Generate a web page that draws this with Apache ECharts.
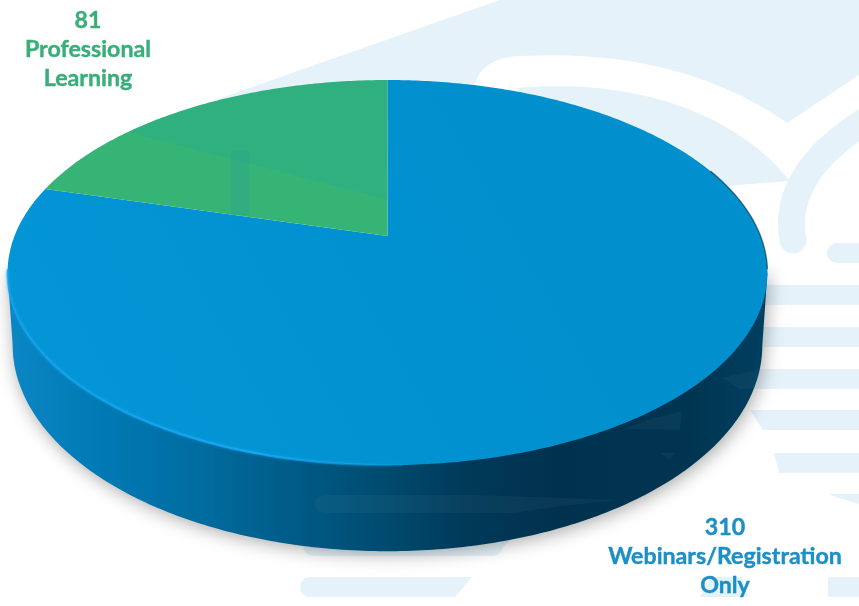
<!DOCTYPE html>
<html>
<head>
<meta charset="utf-8">
<style>html,body{margin:0;padding:0;background:#fff}#c{width:859px;height:606px}</style>
<script src="https://cdn.jsdelivr.net/npm/echarts@6/dist/echarts.min.js"></script>
</head>
<body>
<div id="c"></div>
<script>
const categories = ['Webinars/Registration\nOnly', 'Professional\nLearning'];
const values = [310, 81];
const labelColors = ['#1b8fc6', '#39ae79'];
const labelCenters = [[725, 557], [88, 50]];

const TOTAL = values.reduce((a, b) => a + b, 0);
const CX = 387.5, K = -0.19;
const TOP = { y0: 236, sy: 185.6, sx: 373 };
const BOT = { y0: 306, sy: 198.6, sx: 368 };
const WM = '#e5f2fa';

function proj(deg, p) {
  const a = deg * Math.PI / 180, u = Math.sin(a), v = -Math.cos(a), w = 1 + K * v;
  return [CX + p.sx * u / w, p.y0 + p.sy * v / w];
}
function arc(from, to, p) {
  const pts = [], n = Math.max(2, Math.ceil(Math.abs(to - from) * 1.5));
  for (let i = 0; i <= n; i++) pts.push(proj(from + (to - from) * i / n, p));
  return pts;
}
function extreme(p, sign) {
  let best = 0, bx = -Infinity;
  for (let d = 0; d < 360; d += 0.5) {
    const x = sign * proj(d, p)[0];
    if (x > bx) { bx = x; best = d; }
  }
  return best;
}
function bez(p0, c1, c2, p1) {
  const pts = [];
  for (let i = 0; i <= 30; i++) {
    const t = i / 30, m = 1 - t;
    pts.push([0, 1].map(k => m*m*m*p0[k] + 3*m*m*t*c1[k] + 3*m*t*t*c2[k] + t*t*t*p1[k]));
  }
  return pts;
}
const sideFill = {
  type: 'linear', global: true, x: 14, y: 0, x2: 764, y2: 0,
  colorStops: [
    { offset: 0, color: '#0a86c4' }, { offset: 0.12, color: '#0079b3' },
    { offset: 0.25, color: '#006c9f' }, { offset: 0.38, color: '#005a85' },
    { offset: 0.5, color: '#004a6e' }, { offset: 0.6, color: '#003a59' },
    { offset: 0.72, color: '#00324f' }, { offset: 0.9, color: '#003551' },
    { offset: 1, color: '#003f5f' }
  ]
};
const topFills = [
  { type: 'linear', global: true, x: 100, y: 420, x2: 520, y2: 180,
    colorStops: [{ offset: 0, color: '#0395d6' }, { offset: 1, color: '#018fcd' }] },
  { type: 'linear', global: true, x: 245.4, y: 214.4, x2: 270.6, y2: 117.6,
    colorStops: [{ offset: 0, color: '#35b476' }, { offset: 0.5, color: '#35b476' },
                 { offset: 0.5, color: '#30b07f' }, { offset: 1, color: '#30b07f' }] }
];

function renderSlice(params, api) {
  const i = params.dataIndex;
  let start = 0;
  for (let k = 0; k < i; k++) start += values[k];
  const a0 = start / TOTAL * 360, a1 = (start + api.value(0)) / TOTAL * 360;
  const children = [];
  if (i === 0) {
    const r = extreme(BOT, 1), l = extreme(BOT, -1);
    const rT = extreme(TOP, 1), lT = extreme(TOP, -1);
    const side = [proj(rT, TOP)].concat(arc(r, l, BOT), [proj(lT, TOP)]);
    children.push({ type: 'polygon', shape: { points: side }, style: {
      fill: sideFill, shadowColor: 'rgba(0,0,0,0.34)', shadowBlur: 18, shadowOffsetX: 2, shadowOffsetY: 3 } });
  }
  const pts = [[CX, TOP.y0]].concat(arc(a0, a1, TOP));
  children.push({ type: 'polygon', shape: { points: pts }, style: { fill: topFills[i] } });
  if (i === 0) {
    children.push({ type: 'polyline', shape: { points: arc(260, 178, TOP) }, style: {
      fill: 'none', lineWidth: 2.2, shadowBlur: 3, shadowColor: 'rgba(25,170,245,0.7)',
      stroke: { type: 'linear', global: true, x: 8, y: 0, x2: 450, y2: 0,
        colorStops: [{ offset: 0, color: 'rgba(20,165,240,0.7)' }, { offset: 0.55, color: 'rgba(25,170,245,0.85)' },
                     { offset: 1, color: 'rgba(25,170,245,0)' }] } } });
    children.push({ type: 'polyline', shape: { points: arc(68, 100, TOP) }, style: {
      fill: 'none', lineWidth: 1.4, stroke: 'rgba(0,45,70,0.6)' } });
  }
  const c = labelCenters[i];
  children.push({ type: 'text', x: c[0], y: c[1], style: {
    text: api.value(0) + '\n' + categories[i], fill: labelColors[i], stroke: labelColors[i], lineWidth: 0.4,
    font: 'bold 23.2px Lato', lineHeight: 29, align: 'center', verticalAlign: 'middle' } });
  return { type: 'group', children };
}

const bg = (shape) => ({ type: 'polygon', z: 0, silent: true, shape: { points: shape }, style: { fill: WM } });
const bgGraphics = [
  bg([[215, 100], [500, 0], [859, 0], [859, 75], [787, 123]]
    .concat(bez([787, 123], [700, 62], [600, 52], [520, 56]), bez([520, 56], [495, 57], [478, 68], [476, 83]), [[400, 120]])),
  bg(bez([517, 88], [600, 80], [720, 95], [790, 181]).concat([[725, 186], [560, 186]])),
  { type: 'polyline', z: 0, silent: true, shape: { points: bez([870, 118], [810, 155], [785, 195], [793, 240]) },
    style: { fill: 'none', stroke: WM, lineWidth: 27, lineCap: 'round' } },
  { type: 'rect', z: 0, silent: true, shape: { x: 838, y: 243, width: 30, height: 20 }, style: { fill: WM } },
  { type: 'rect', z: 0, silent: true, shape: { x: 827, y: 243, width: 30, height: 20, r: 10 }, style: { fill: WM } },
  { type: 'rect', z: 0, silent: true, shape: { x: 740, y: 285, width: 119, height: 20 }, style: { fill: WM } },
  bg([[700, 327], [859, 327], [859, 347], [700, 347]]),
  bg([[700, 369], [859, 369], [859, 389], [700, 389]]),
  bg([[750, 410], [859, 410], [859, 430], [763, 430]]),
  bg([[774, 453], [859, 453], [859, 473], [779, 473]]),
  bg([[827, 494], [859, 494], [859, 504]]),
  { type: 'rect', z: 0, silent: true, shape: { x: 303, y: 536, width: 200, height: 20, r: 10 }, style: { fill: WM } },
  bg([[470, 536], [515, 536], [493, 556], [470, 556]]),
  { type: 'rect', z: 0, silent: true, shape: { x: 300, y: 577, width: 120, height: 20, r: 10 }, style: { fill: WM } },
  bg([[400, 577], [472, 577], [455, 597], [400, 597]]),
  bg([[711, 577], [742, 577], [748, 597], [700, 597]]),
  bg([[828, 577], [859, 577], [859, 597], [828, 597]])
];
const ov = (pts, a) => ({ type: 'polygon', z: 10, silent: true, shape: { points: pts }, style: { fill: 'rgba(255,255,255,' + a + ')' } });
const overlays = [
  { type: 'rect', z: 10, silent: true, shape: { x: 231, y: 150, width: 18, height: 65 }, style: { fill: 'rgba(48,168,135,0.55)' } },
  { type: 'rect', z: 10, silent: true, shape: { x: 315, y: 495, width: 120, height: 18, r: [9, 0, 0, 9] }, style: { fill: 'rgba(255,255,255,0.035)' } },
  ov([[435, 495], [475, 495], [620, 500], [560, 506], [515, 513], [435, 513]], 0.035),
  ov([[682, 411], [680, 430], [622, 429], [650, 419]], 0.035),
  ov([[722, 378], [761, 369], [757, 389], [740, 389]], 0.035),
  ov([[660, 453], [675, 453], [669, 460]], 0.035)
];

const chart = echarts.init(document.getElementById('c'), null, { renderer: 'canvas', width: 859, height: 606 });
chart.setOption({
  animation: false,
  backgroundColor: '#ffffff',
  graphic: { elements: bgGraphics.concat(overlays) },
  series: [{
    type: 'custom',
    coordinateSystem: 'none',
    silent: true,
    z: 5,
    clip: false,
    renderItem: renderSlice,
    data: values.map((v, i) => ({ name: categories[i], value: [v] }))
  }]
});
</script>
</body>
</html>
